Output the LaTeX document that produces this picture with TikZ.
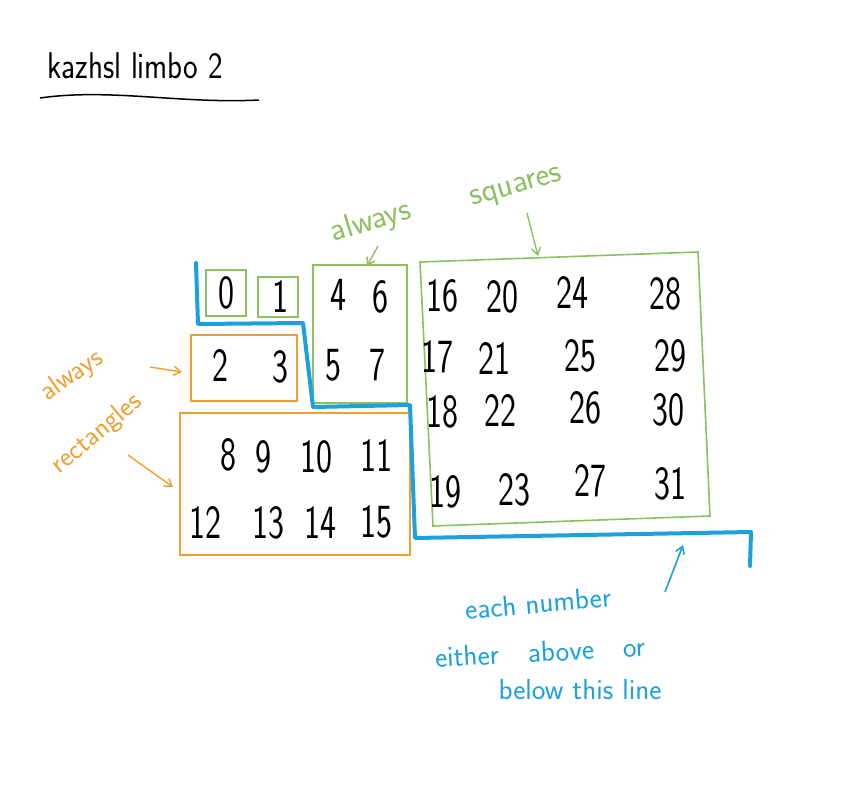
\documentclass[tikz,border=0pt]{standalone}
\usetikzlibrary{arrows.meta}
\definecolor{pgreen}{RGB}{140,192,96}
\definecolor{porange}{RGB}{240,160,50}
\definecolor{pblue}{RGB}{28,160,222}
\begin{document}
\begin{tikzpicture}[x=1pt,y=-1pt,
  gbox/.style={draw=pgreen,line width=1.6pt},
  obox/.style={draw=porange,line width=1.6pt},
  num/.style={font=\sffamily\fontsize{34}{36}\selectfont,inner sep=0pt,yscale=1.4},
  gtxt/.style={text=pgreen,font=\sffamily\fontsize{33}{35}\selectfont,inner sep=0pt},
  otxt/.style={text=porange,font=\sffamily\fontsize{28}{30}\selectfont,inner sep=0pt},
  btxt/.style={text=pblue,font=\sffamily\fontsize{29}{31}\selectfont,inner sep=0pt},
  garrow/.style={draw=pgreen,line width=1.4pt,-{Straight Barb[length=7pt,width=9pt]}},
  oarrow/.style={draw=porange,line width=1.4pt,-{Straight Barb[length=7pt,width=9pt]}},
  barrow/.style={draw=pblue,line width=1.6pt,-{Straight Barb[length=7pt,width=9pt]}},
  bline/.style={draw=pblue,line width=4pt,line join=round,line cap=round}]
\useasboundingbox[fill=white] (0,0) rectangle (849,793);

% title
\node[font=\sffamily\fontsize{31}{33}\selectfont,inner sep=0pt,yscale=1.2] (title) at (135,66) {kazhsl limbo 2};
\coordinate (ul1) at (40,98);
\coordinate (ul2) at (259,100);
\draw[line width=1.5pt] (ul1) .. controls (110,88) and (180,104) .. (ul2);

% green boxes
\draw[gbox] (206,270) rectangle (246,316);
\node[num] (n0) at (226,293) {0};
\draw[gbox] (258,277) rectangle (298,317);
\node[num] (n1) at (280,297) {1};
\draw[gbox] (313,265) rectangle (407,403);
\coordinate (b4top) at (367,266);
\node[num] (n4) at (338,295) {4};
\node[num] (n6) at (380,297) {6};
\node[num] (n5) at (333,365) {5};
\node[num] (n7) at (377,365) {7};

% big green box
\draw[gbox] (420,262) -- (698,252) -- (710,516) -- (433,526) -- cycle;
\coordinate (bigtop) at (538,256);
\foreach \t/\x/\y in {16/442/296,20/502/297,24/572/292,28/665/294,
                     17/437/357,21/494/358,25/580/356,29/670/356,
                     18/442/412,22/500/410,26/585/408,30/668/410,
                     19/445/492,23/514/490,27/590/481,31/670/484}
  \node[num] (n\t) at (\x,\y) {\t};

% orange boxes
\draw[obox] (191,335) rectangle (297,401);
\coordinate (b2w) at (182,372);
\node[num] (n2) at (220,365) {2};
\node[num] (n3) at (280,367) {3};
\draw[obox] (180,413) rectangle (410,555);
\coordinate (b8w) at (173,487);
\foreach \t/\x/\y in {8/228/455,9/263/457,10/316/457,11/376/455,
                     12/205/522,13/268/523,14/320/522,15/376/522}
  \node[num] (n\t) at (\x,\y) {\t};

% blue line
\coordinate (p0) at (196,263);
\coordinate (p1) at (198,324);
\coordinate (p2) at (303,323);
\coordinate (p3) at (313,407);
\coordinate (p4) at (410,405);
\coordinate (p5) at (415,538);
\coordinate (p6) at (751,532);
\coordinate (p7) at (750,566);
\draw[bline] (p0) -- (p1) -- (p2) -- (p3) -- (p4) -- (p5) -- (p6) -- (p7);

% green labels
\node[gtxt,rotate=17] (always1) at (371,222) {always};
\node[gtxt,rotate=16] (squares) at (517,189) {squares};
\coordinate (a1s) at (378,246);
\coordinate (a2s) at (527,213);
\draw[garrow] (a1s) -- (b4top);
\draw[garrow] (a2s) -- (bigtop);

% orange labels
\node[otxt,rotate=35] (always2) at (72,376) {always};
\node[otxt,rotate=40] (rect) at (97,434) {rectangles};
\coordinate (o1s) at (150,367);
\coordinate (o2s) at (128,455);
\draw[oarrow] (o1s) -- (b2w);
\draw[oarrow] (o2s) -- (b8w);

% blue labels
\node[btxt,rotate=5] (t1) at (538,603) {each number};
\node[btxt,rotate=3] (t2) at (540,652) {either\quad above\quad or};
\node[btxt] (t3) at (580,690) {below this line};
\coordinate (bas) at (665,592);
\coordinate (bae) at (683,545);
\draw[barrow] (bas) -- (bae);
\end{tikzpicture}
\end{document}
